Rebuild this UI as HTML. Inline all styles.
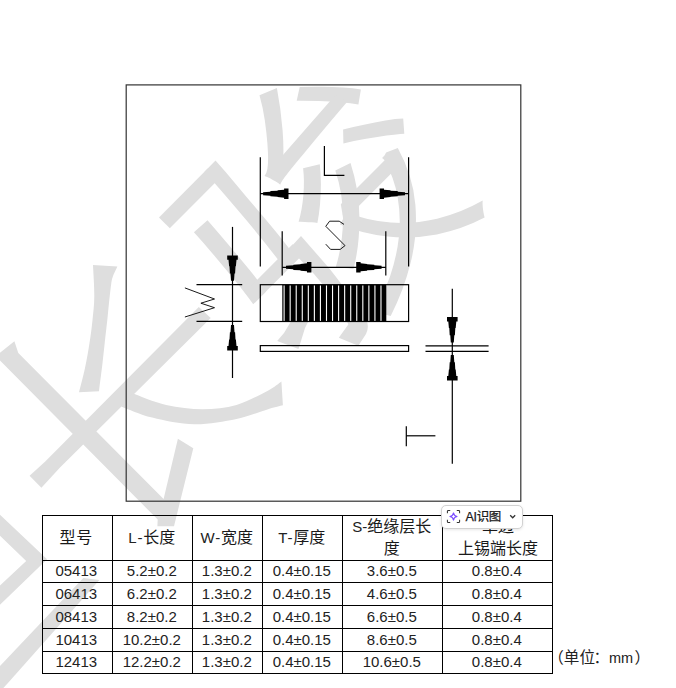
<!DOCTYPE html>
<html lang="zh"><head><meta charset="utf-8"><title>Spec</title><style>
html,body{margin:0;padding:0;background:#fff}
body{width:676px;height:688px;position:relative;overflow:hidden;font-family:"Liberation Sans","Noto Sans CJK SC",sans-serif;color:#111}
.wm,.dg{position:absolute;left:0;top:0}
.k{white-space:nowrap;font-family:"Liberation Sans","Noto Sans CJK SC",sans-serif;font-size:16px;color:#1a1a1a}
.la{letter-spacing:.8px}
table.t{position:absolute;left:42px;top:515px;border-collapse:collapse;table-layout:fixed;width:510px;font-size:15px;color:#222}
table.t th,table.t td{border:1px solid #000;padding:0 1.4px 0 0;text-align:center;vertical-align:middle;font-weight:normal;white-space:nowrap;overflow:hidden}
tr.h{height:44.5px}
tr.h th{line-height:21.4px}
tr.h th:first-child{padding-right:2.4px}
tr.h th:first-child .k{letter-spacing:.9px}
tr.h th:last-child{padding:0 0 0 1.2px}
table.t td:first-child{padding-right:2.4px}
tr.r1{height:22.5px}tr.r2,tr.r3,tr.r4{height:23px}tr.r5{height:21.5px}
table.t td{line-height:20px}
.btn{position:absolute;left:441px;top:505px;width:79.6px;height:21.5px;border:1px solid #d2d2d2;border-radius:5px;background:#fff;box-shadow:0 1px 3px rgba(0,0,0,.10)}
.btn .ico{position:absolute;left:4px;top:3px;width:15px;height:15px}
.btn .bt{position:absolute;left:23.5px;top:2px;font-size:12.5px;line-height:18px;color:#1a1a1a;letter-spacing:-0.3px;-webkit-text-stroke:.25px #1a1a1a}
.btn .bt .k{font-size:12.5px;letter-spacing:-0.5px}
.btn .chev{position:absolute;left:67.2px;top:8.3px;width:7.4px;height:5.6px}
.unit{position:absolute;left:0;top:0;color:#222}
.unit span.u1{position:absolute;left:548.2px;top:650px;white-space:nowrap;line-height:16px;font-size:15.6px}
.unit span.u2{position:absolute;left:634.6px;top:650px;white-space:nowrap;line-height:16px;font-size:15.6px}
.unit .k{font-size:15.6px;color:#222}
.unit .colon{position:absolute;left:593.6px;top:650px;white-space:nowrap;line-height:16px;font-size:15.6px;color:#222;font-family:"Liberation Sans","Noto Sans CJK SC",sans-serif}
.unit .mm{position:absolute;left:608.9px;top:648.6px;font-size:14.5px;line-height:18px;color:#222}
</style></head>
<body>
<svg class="wm" width="676" height="688" viewBox="0 0 676 688" aria-hidden="true"><g fill="#dedede">
<path d="M290 248L301 236Q315 252 329 268Q355 301 366.5 320Q369.5 327 366 334L358.3 345.7L338.8 337.7L348.3 324.5Q345 315 340 306Q327 289 314 274L291 250Z"/>
<path d="M277.2 341L284 333L302 303L312 286L323 294L314 310L305 328L298.5 349Z"/>
<path d="M159 217.4L207.7 168.4L218.6 179.2L169.8 228.2Z"/>
<path d="M204.5 171.7L215.5 160.6Q225.2 171.4 235.7 183.9Q246.1 196.5 256.6 208.8Q267.1 221.1 276.3 232.3Q285.4 243.5 291.9 252.2L281.7 264.4Q274.6 255.1 265.4 243.4Q256.1 231.8 245.6 219.3Q235.1 206.7 224.5 194.4Q213.8 182.1 204.5 171.7Z"/>
<path d="M193.9 232.3L207.5 220.3Q217.2 231.5 228.3 244.5Q239.4 257.6 249.4 269.8Q259.4 282.1 266.1 291.6L253.2 304.2Q246.3 294.4 236 281.7Q225.7 269 214.6 255.9Q203.6 242.9 193.9 232.3Z"/>
<path d="M244.7 292.4L292.6 244.2L302.9 254.5L255 302.6Z"/>
<path d="M296.7 100.7L299.7 87.1Q309.8 86.6 321.3 86.7Q332.7 86.9 343.1 87.6Q353.6 88.3 360.9 89.4L358.4 104.4Q351.2 103 340.7 102.2Q330.2 101.5 318.7 101Q307.1 100.6 296.7 100.7Z"/>
<path d="M280.3 184.1Q278.7 183.3 275.8 181.6Q272.9 179.9 270 178.3Q267 176.7 264.5 175.9Q266.7 173.1 267.4 168.7Q268.1 164.2 268.1 158Q268.1 153.8 267.4 143.5Q266.6 133.2 264.8 120.3Q263 107.5 259.5 95.2L276.9 88.1Q280.9 109.2 282.6 130.5Q284.3 151.7 282.5 169.4L282.7 169.6Q282.7 169.6 282 171.4Q281.4 173.2 280.5 175.9Q279.7 178.5 279.5 180.8Q279.3 183.1 280.3 184.1Z"/>
<path d="M280.2 184.7L271.2 176.2L274 165.3L335.4 94.9Q337.9 96.6 341.4 98.6Q344.9 100.6 347 101.9Q329.6 122.4 317.9 136.4Q306.3 150.4 299.2 159.1Q292.1 167.8 288.1 172.7Q284.1 177.7 282.5 180.2Q280.9 182.8 280.2 184.7Z"/>
<path d="M335.3 170.6L350.5 163Q359.2 189.7 359.4 217.4Q359.7 245.1 353.5 269.1Q351.2 268.7 348 268.3Q344.8 267.9 341.3 267.7Q337.9 267.5 335.5 267.9Q342.7 245 343 219.5Q343.2 194.1 335.3 170.6Z"/>
<path d="M382.1 158L384.7 155.3L386.1 152.4L397.8 148Q413.1 175.9 415.4 204.9Q417.7 233.9 410.8 262.1Q403.9 290.2 390.7 315.9Q387.3 314.9 382.3 314.2Q377.2 313.5 373.5 313.7Q383.2 295.9 390 276.4Q396.7 257 398.9 237Q401.1 216.9 397.7 197.4Q394.3 177.9 384.5 160Z"/>
<path d="M346.9 212.6Q367.8 221 390.7 222.6Q413.7 224.2 437.1 218.7Q460.6 213.2 482.7 200.6Q482.4 203.1 482.7 206.2Q482.9 209.4 483.5 212.4Q484 215.5 484.6 217.6Q461.4 229.7 436.8 234.4Q412.3 239 387.7 236.5Q363.1 234 339.9 224.5Z"/>
<path d="M340.8 204.3L389.2 155.7L399.1 165.5L343.7 221.2Z"/>
<path d="M343.4 143.4L343.1 129.5Q352.8 126.9 364 124.7Q375.1 122.5 385.4 120.6Q395.8 118.8 403.2 118.6L404.3 133.7Q397 134.1 386.5 135.6Q375.9 137.1 364.6 139.1Q353.2 141.1 343.4 143.4Z"/>
<path d="M303.1 168.2L319.8 164.2Q320.8 173.7 320.9 184.1Q320.9 194.5 320 204.4Q319.1 214.4 317.4 222.9Q315.2 222.5 311.8 222.3Q308.3 222.1 304.8 221.9Q301.3 221.7 298.6 221.8Q302.1 209.9 303.4 195.2Q304.6 180.6 303.1 168.2Z"/>
<path d="M14.4 341.2L18.3 352.9L163.6 499.1L177.9 438.7L193.3 448.3L174 526.2L157.4 526.2L157.7 519.6L-4.3 356.1Z"/>
<path d="M29.6 475.7L45 461.7L198.8 307L210.7 318L60 467.5L41.4 487.7Z"/>
<path d="M93 265.1C93.2 270.3 94.4 287.4 94.3 296.5C94.2 305.6 93.3 312.2 92.5 320C91.7 327.8 90.8 335 89.5 343C88.2 351 86.8 359.8 85 368C83.2 376.2 80 388.2 79 392.2L99 391.2C99.5 386.8 101.3 373 102.3 365C103.2 357 103.9 350.5 104.7 343C105.5 335.5 106.5 327.2 107.3 320C108.1 312.8 108.6 306 109.3 300C110 294 110.6 287.9 111.2 284C111.8 280.1 111.8 279.6 112.8 276.7C113.8 273.8 116.6 268.2 117.4 266.5Z"/>
<path d="M132.5 393.2C138.1 395.2 154.5 402.3 166.2 405C177.9 407.7 191 409.2 202.7 409.2C214.4 409.2 225.7 408.1 236.5 405C247.3 401.9 259.9 394.8 267.4 390.9C274.9 387 279.1 383.1 281.4 381.5L282.9 405.3C280.3 406 275.1 407.1 267.4 409.4C259.7 411.7 248.7 416.5 236.5 419C224.3 421.5 208.4 424.5 194.3 424.3C180.2 424.1 164.4 420.6 152.2 417.6C140 414.6 126.4 408.3 121.2 406.4Z"/>
<path d="M47.1 559.3L-2 512.9L-2 533.9L26.2 561L-2 587.4L-2 606.6Z"/>
<path d="M-2 668.2L83.3 578L99.4 579.9L9.5 681.2L-2 694Z"/>
</g></svg>
<svg class="dg" width="676" height="688" viewBox="0 0 676 688" aria-hidden="true">
<rect x="126.2" y="84.9" width="394.6" height="416.3" fill="none" stroke="#333" stroke-width="1.2"/>
<g stroke="#000" stroke-width="1.2" fill="none"><line x1="260.3" y1="157.3" x2="260.3" y2="266.4" stroke-width="1.2"/><line x1="408.6" y1="157.3" x2="408.6" y2="266.4" stroke-width="1.2"/><line x1="260.3" y1="193.7" x2="408.6" y2="193.7" stroke-width="1.2"/><polyline points="324.4,146 324.4,175.4 344.4,175.4" fill="none"/><line x1="282.2" y1="231.2" x2="282.2" y2="275.4" stroke-width="1.2"/><line x1="385.8" y1="231.2" x2="385.8" y2="275.4" stroke-width="1.2"/><line x1="282.2" y1="267.3" x2="385.8" y2="267.3" stroke-width="1.2"/><polyline points="344,224.4 339.2,221.2 329.6,221.2 325.8,226.3 345,245.6 340.2,249.4 330.6,249.4 325.8,244.2" fill="none" stroke-width="0.9"/><line x1="232.5" y1="226.9" x2="232.5" y2="378" stroke-width="1.2"/><line x1="196.5" y1="284.7" x2="242.2" y2="284.7" stroke-width="1.2"/><line x1="196.5" y1="321.3" x2="242.2" y2="321.3" stroke-width="1.2"/><polyline points="184.9,287.9 214.5,299 200.9,303.2 214.5,307.7 184.9,317" fill="none" stroke-width="0.9"/><rect x="260.3" y="284.7" width="148.3" height="36.8" fill="none"/><rect x="260.3" y="345.6" width="148.3" height="5.8" fill="none"/><line x1="452.3" y1="288.7" x2="452.3" y2="463.7" stroke-width="1.2"/><line x1="425.5" y1="345.8" x2="488.6" y2="345.8" stroke-width="1.2"/><line x1="425.5" y1="351.3" x2="488.6" y2="351.3" stroke-width="1.2"/><polyline points="406.3,426.2 406.3,446.3" fill="none"/><line x1="406.3" y1="435.8" x2="435.4" y2="435.8" stroke-width="1.2"/></g>
<g><rect x="282.3" y="284.7" width="104" height="36.8" fill="#000"/><rect x="283.55" y="285.5" width="1.1" height="35.4" fill="#fff"/><rect x="289.61" y="285.5" width="1.1" height="35.4" fill="#fff"/><rect x="295.66" y="285.5" width="1.1" height="35.4" fill="#fff"/><rect x="301.72" y="285.5" width="1.1" height="35.4" fill="#fff"/><rect x="307.77" y="285.5" width="1.1" height="35.4" fill="#fff"/><rect x="313.82" y="285.5" width="1.1" height="35.4" fill="#fff"/><rect x="319.88" y="285.5" width="1.1" height="35.4" fill="#fff"/><rect x="325.94" y="285.5" width="1.1" height="35.4" fill="#fff"/><rect x="331.99" y="285.5" width="1.1" height="35.4" fill="#fff"/><rect x="338.05" y="285.5" width="1.1" height="35.4" fill="#fff"/><rect x="344.10" y="285.5" width="1.1" height="35.4" fill="#fff"/><rect x="350.16" y="285.5" width="1.1" height="35.4" fill="#fff"/><rect x="356.21" y="285.5" width="1.1" height="35.4" fill="#fff"/><rect x="362.27" y="285.5" width="1.1" height="35.4" fill="#fff"/><rect x="368.32" y="285.5" width="1.1" height="35.4" fill="#fff"/><rect x="374.38" y="285.5" width="1.1" height="35.4" fill="#fff"/><rect x="380.43" y="285.5" width="1.1" height="35.4" fill="#fff"/></g>
<g fill="#000"><polygon points="263.10,195.20 270.40,195.70 270.40,196.30 277.60,196.70 277.60,197.10 284.10,197.70 284.10,199.00 288.50,199.00 288.50,188.40 284.10,188.40 284.10,189.70 277.60,190.30 277.60,190.70 270.40,191.10 270.40,191.70 263.10,192.20"/><polygon points="405.00,195.20 397.70,195.70 397.70,196.30 390.50,196.70 390.50,197.10 384.00,197.70 384.00,199.00 379.60,199.00 379.60,188.40 384.00,188.40 384.00,189.70 390.50,190.30 390.50,190.70 397.70,191.10 397.70,191.70 405.00,192.20"/><polygon points="286.00,268.80 293.30,269.30 293.30,269.90 300.50,270.30 300.50,270.70 307.00,271.30 307.00,272.60 311.40,272.60 311.40,262.00 307.00,262.00 307.00,263.30 300.50,263.90 300.50,264.30 293.30,264.70 293.30,265.30 286.00,265.80"/><polygon points="381.60,268.80 374.30,269.30 374.30,269.90 367.10,270.30 367.10,270.70 360.60,271.30 360.60,272.60 356.20,272.60 356.20,262.00 360.60,262.00 360.60,263.30 367.10,263.90 367.10,264.30 374.30,264.70 374.30,265.30 381.60,265.80"/><polygon points="234.00,280.80 234.50,273.50 235.10,273.50 235.50,266.30 235.90,266.30 236.50,259.80 237.80,259.80 237.80,255.40 227.20,255.40 227.20,259.80 228.50,259.80 229.10,266.30 229.50,266.30 229.90,273.50 230.50,273.50 231.00,280.80"/><polygon points="234.00,325.00 234.50,332.30 235.10,332.30 235.50,339.50 235.90,339.50 236.50,346.00 237.80,346.00 237.80,350.40 227.20,350.40 227.20,346.00 228.50,346.00 229.10,339.50 229.50,339.50 229.90,332.30 230.50,332.30 231.00,325.00"/><polygon points="453.80,342.50 454.30,335.20 454.90,335.20 455.30,328.00 455.70,328.00 456.30,321.50 457.60,321.50 457.60,317.10 447.00,317.10 447.00,321.50 448.30,321.50 448.90,328.00 449.30,328.00 449.70,335.20 450.30,335.20 450.80,342.50"/><polygon points="453.80,355.00 454.30,362.30 454.90,362.30 455.30,369.50 455.70,369.50 456.30,376.00 457.60,376.00 457.60,380.40 447.00,380.40 447.00,376.00 448.30,376.00 448.90,369.50 449.30,369.50 449.70,362.30 450.30,362.30 450.80,355.00"/></g>
</svg>
<table class="t"><colgroup><col style="width:70px"><col style="width:80px"><col style="width:70px"><col style="width:80px"><col style="width:100px"><col style="width:110px"></colgroup>
<tr class="h"><th><span class="k">型号</span></th><th><span class="la">L-</span><span class="k">长度</span></th><th><span class="la">W-</span><span class="k">宽度</span></th><th><span class="la">T-</span><span class="k">厚度</span></th><th>S-<span class="k">绝缘层长</span><br><span class="k">度</span></th><th><span class="k">单边</span><br><span class="k">上锡端长度</span></th></tr>
<tr class="r1"><td>05413</td><td>5.2±0.2</td><td>1.3±0.2</td><td>0.4±0.15</td><td>3.6±0.5</td><td>0.8±0.4</td></tr>
<tr class="r2"><td>06413</td><td>6.2±0.2</td><td>1.3±0.2</td><td>0.4±0.15</td><td>4.6±0.5</td><td>0.8±0.4</td></tr>
<tr class="r3"><td>08413</td><td>8.2±0.2</td><td>1.3±0.2</td><td>0.4±0.15</td><td>6.6±0.5</td><td>0.8±0.4</td></tr>
<tr class="r4"><td>10413</td><td>10.2±0.2</td><td>1.3±0.2</td><td>0.4±0.15</td><td>8.6±0.5</td><td>0.8±0.4</td></tr>
<tr class="r5"><td>12413</td><td>12.2±0.2</td><td>1.3±0.2</td><td>0.4±0.15</td><td>10.6±0.5</td><td>0.8±0.4</td></tr>
</table>
<div class="btn"><svg class="ico" width="16" height="16" viewBox="0 0 16 16" aria-hidden="true">
<path d="M1.5 4.5V2.5a1 1 0 0 1 1-1h2M11.5 1.5h2a1 1 0 0 1 1 1v2M14.5 11.5v2a1 1 0 0 1-1 1h-2M4.5 14.5h-2a1 1 0 0 1-1-1v-2" fill="none" stroke="#333" stroke-width="1.1"/>
<path d="M8 4.2C8.3 6.6 9.4 7.7 11.8 8C9.4 8.3 8.3 9.4 8 11.8C7.7 9.4 6.6 8.3 4.2 8C6.6 7.7 7.7 6.6 8 4.2Z" fill="none" stroke="#7b4dff" stroke-width="1.2" stroke-linejoin="round"/>
</svg><span class="bt">AI<span class="k">识图</span></span><svg class="chev" width="8" height="6" viewBox="0 0 8 6" aria-hidden="true"><path d="M1.3 1.3L4 4L6.7 1.3" fill="none" stroke="#333" stroke-width="1.4"/></svg></div>
<div class="unit"><span class="u1"><span class="k">（单位</span></span><span class="colon">：</span><span class="mm">mm</span><span class="u2"><span class="k">）</span></span></div>
</body></html>
